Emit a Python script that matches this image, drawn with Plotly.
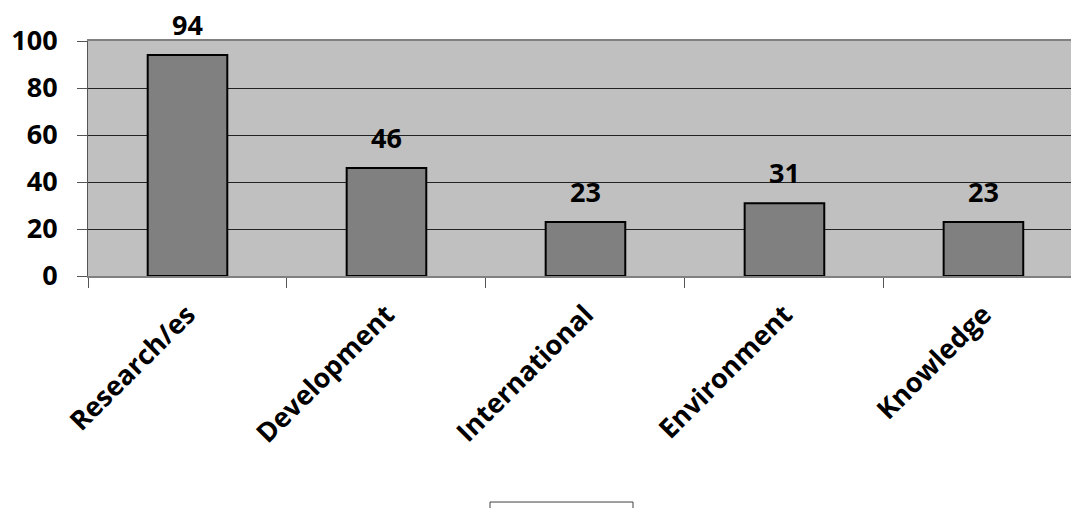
import plotly.graph_objects as go

categories = ["Research/es", "Development", "International", "Environment", "Knowledge"]
counts = [94, 46, 23, 31, 23]
y_ticks = [0, 20, 40, 60, 80, 100]

FONT = dict(family="Open Sans", size=27, color="black", weight="bold")

fig = go.Figure(
    go.Bar(
        x=categories,
        y=counts,
        width=0.4,
        marker=dict(color="#808080", line=dict(color="black", width=2)),
        showlegend=False,
    )
)

# value labels above each bar
for c, v in zip(categories, counts):
    fig.add_annotation(
        x=c, y=v, text=str(v), showarrow=False,
        yanchor="bottom", yshift=10, font=FONT,
    )

# empty legend frame below the chart
fig.add_shape(
    type="rect", xref="paper", yref="paper",
    x0=(490 - 88) / 983, x1=(633 - 88) / 983,
    y0=-1.2, y1=-(503 - 276.5) / 235.5,
    line=dict(color="#404040", width=1), fillcolor="white",
)

fig.update_layout(
    width=1071, height=508,
    margin=dict(l=88, r=0, t=41, b=232, pad=0),
    paper_bgcolor="white",
    plot_bgcolor="#C0C0C0",
    bargap=0.6,
    font=FONT,
    xaxis=dict(
        type="category",
        range=[-0.5, 4.44],
        tickangle=-45,
        tickson="boundaries",
        ticks="outside", ticklen=10, tickcolor="#555555", tickwidth=1,
        ticklabelstandoff=10,
        showline=True, linecolor="#808080", linewidth=2, mirror=True,
        showgrid=False,
        tickfont=FONT,
    ),
    yaxis=dict(
        range=[0, 100],
        tickvals=y_ticks,
        ticks="outside", ticklen=10, tickcolor="#555555", tickwidth=1,
        ticklabelstandoff=14,
        showline=True, linecolor="#555555", linewidth=1,
        gridcolor="#222222", gridwidth=1,
        zeroline=False,
        tickfont=dict(family="Open Sans", size=27, color="black", weight="bold"),
    ),
)

fig.write_html("out.html")
